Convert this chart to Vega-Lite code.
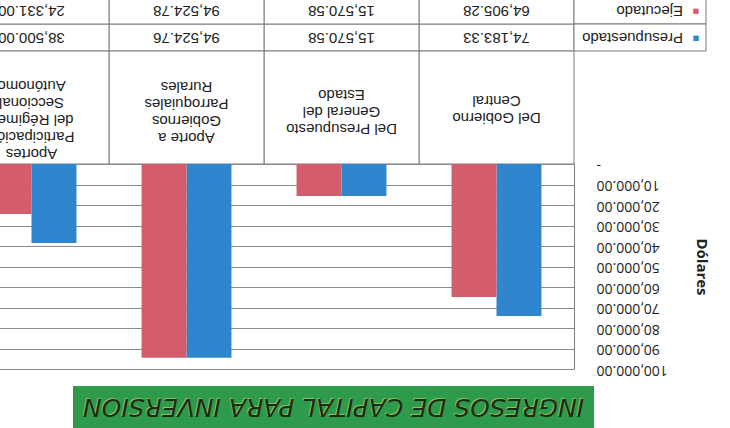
{
  "$schema": "https://vega.github.io/schema/vega-lite/v6.json",
  "padding": {"left": -47, "top": -4, "right": 0, "bottom": 0},
  "background": "white",
  "config": {
    "view": {"stroke": null},
    "font": "Liberation Sans"
  },
  "datasets": {
    "ingresos": [
      {"categoria": "Del Gobierno Central", "serie": "Presupuestado", "valor": 74183.33},
      {"categoria": "Del Gobierno Central", "serie": "Ejecutado", "valor": 64905.28},
      {"categoria": "Del Presupuesto General del Estado", "serie": "Presupuestado", "valor": 15570.58},
      {"categoria": "Del Presupuesto General del Estado", "serie": "Ejecutado", "valor": 15570.58},
      {"categoria": "Aporte a Gobiernos Parroquiales Rurales", "serie": "Presupuestado", "valor": 94524.76},
      {"categoria": "Aporte a Gobiernos Parroquiales Rurales", "serie": "Ejecutado", "valor": 94524.78},
      {"categoria": "Aportes Participación del Régimen Seccional Autónomo", "serie": "Presupuestado", "valor": 38500.00},
      {"categoria": "Aportes Participación del Régimen Seccional Autónomo", "serie": "Ejecutado", "valor": 24331.00}
    ],
    "categorias": [
      {"categoria": "Del Gobierno Central", "lineas": ["Del Gobierno", "Central"]},
      {"categoria": "Del Presupuesto General del Estado", "lineas": ["Del Presupuesto", "General del", "Estado"]},
      {"categoria": "Aporte a Gobiernos Parroquiales Rurales", "lineas": ["Aporte a", "Gobiernos", "Parroquiales", "Rurales"]},
      {"categoria": "Aportes Participación del Régimen Seccional Autónomo", "lineas": ["Aportes", "Participación", "del Régimen", "Seccional", "Autónomo"]}
    ],
    "series": [
      {"serie": "Ejecutado"},
      {"serie": "Presupuestado"}
    ],
    "titulo": [
      {"texto": "INGRESOS DE CAPITAL PARA INVERSION"}
    ]
  },
  "spacing": 0,
  "bounds": "flush",
  "vconcat": [
    {
      "width": 752,
      "height": 54,
      "encoding": {
        "y": {"field": "serie", "type": "nominal", "sort": ["Ejecutado", "Presupuestado"], "axis": null, "scale": {"paddingInner": 0, "paddingOuter": 0}}
      },
      "resolve": {"scale": {"x": "independent"}},
      "layer": [
        {
          "data": {"name": "ingresos"},
          "encoding": {
            "x": {"field": "categoria", "type": "nominal", "sort": ["Aportes Participación del Régimen Seccional Autónomo", "Aporte a Gobiernos Parroquiales Rurales", "Del Presupuesto General del Estado", "Del Gobierno Central"], "axis": null, "scale": {"paddingInner": 0, "paddingOuter": 0.425806, "align": 0}}
          },
          "layer": [
            {"mark": {"type": "rect", "fill": "white", "stroke": "#7a7a7a", "strokeWidth": 1}},
            {
              "mark": {"type": "text", "angle": 180, "fontSize": 15, "align": "center", "baseline": "middle", "color": "#222222"},
              "encoding": {"text": {"field": "valor", "type": "quantitative", "format": ",.2f"}}
            }
          ]
        },
        {
          "data": {"name": "series"},
          "encoding": {
            "x": {"datum": "leyenda", "type": "nominal", "axis": null, "scale": {"domain": ["otro", "leyenda"], "paddingInner": 0.787097, "paddingOuter": 0}}
          },
          "layer": [
            {"mark": {"type": "rect", "fill": "white", "stroke": "#7a7a7a", "strokeWidth": 1}},
            {
              "mark": {"type": "text", "angle": 180, "fontSize": 15, "align": "left", "baseline": "middle", "dx": -43, "color": "#222222"},
              "encoding": {"text": {"field": "serie", "type": "nominal"}}
            },
            {
              "mark": {"type": "text", "angle": 180, "fontSize": 11, "align": "center", "baseline": "middle", "dx": -56, "text": "■"},
              "encoding": {"color": {"field": "serie", "type": "nominal", "scale": {"domain": ["Presupuestado", "Ejecutado"], "range": ["#2f86cf", "#d35d6a"]}, "legend": null}}
            }
          ]
        }
      ]
    },
    {
      "width": 620,
      "height": 113,
      "data": {"name": "categorias"},
      "encoding": {
        "x": {"field": "categoria", "type": "nominal", "sort": ["Aportes Participación del Régimen Seccional Autónomo", "Aporte a Gobiernos Parroquiales Rurales", "Del Presupuesto General del Estado", "Del Gobierno Central"], "axis": null, "scale": {"paddingInner": 0, "paddingOuter": 0}}
      },
      "layer": [
        {"mark": {"type": "rect", "fill": "white", "stroke": "#7a7a7a", "strokeWidth": 1}},
        {
          "transform": [{"filter": "datum.categoria == 'Del Gobierno Central'"}],
          "mark": {"type": "text", "angle": 180, "fontSize": 15, "lineHeight": 17, "align": "center", "baseline": "middle", "dy": -10.5, "color": "#222222"},
          "encoding": {"text": {"field": "lineas", "type": "nominal"}}
        },
        {
          "transform": [{"filter": "datum.categoria == 'Del Presupuesto General del Estado'"}],
          "mark": {"type": "text", "angle": 180, "fontSize": 15, "lineHeight": 17, "align": "center", "baseline": "middle", "dy": -21.5, "color": "#222222"},
          "encoding": {"text": {"field": "lineas", "type": "nominal"}}
        },
        {
          "transform": [{"filter": "datum.categoria == 'Aporte a Gobiernos Parroquiales Rurales'"}],
          "mark": {"type": "text", "angle": 180, "fontSize": 15, "lineHeight": 17, "align": "center", "baseline": "middle", "dy": -30.5, "color": "#222222"},
          "encoding": {"text": {"field": "lineas", "type": "nominal"}}
        },
        {
          "transform": [{"filter": "datum.categoria == 'Aportes Participación del Régimen Seccional Autónomo'"}],
          "mark": {"type": "text", "angle": 180, "fontSize": 15, "lineHeight": 17, "align": "center", "baseline": "middle", "dy": -46.5, "color": "#222222"},
          "encoding": {"text": {"field": "lineas", "type": "nominal"}}
        }
      ]
    },
    {
      "width": 620,
      "height": 205,
      "data": {"name": "ingresos"},
      "mark": {"type": "bar"},
      "encoding": {
        "x": {"field": "categoria", "type": "nominal", "sort": ["Aportes Participación del Régimen Seccional Autónomo", "Aporte a Gobiernos Parroquiales Rurales", "Del Presupuesto General del Estado", "Del Gobierno Central"], "axis": null, "scale": {"paddingInner": 0.42, "paddingOuter": 0.21}},
        "xOffset": {"field": "serie", "type": "nominal", "sort": ["Ejecutado", "Presupuestado"]},
        "y": {
          "field": "valor", "type": "quantitative",
          "scale": {"domain": [0, 100000], "reverse": true, "nice": false, "zero": true},
          "axis": {
            "orient": "right",
            "values": [0, 10000, 20000, 30000, 40000, 50000, 60000, 70000, 80000, 90000, 100000],
            "title": "Dólares",
            "titleFont": "Open Sans",
            "titleFontWeight": "bold",
            "titleFontSize": 15,
            "titleColor": "#222222",
            "titlePadding": 26,
            "labelFont": "Open Sans",
            "labelFontSize": 14,
            "labelColor": "#222222",
            "labelAngle": 180,
            "labelAlign": "right",
            "labelBaseline": "middle",
            "labelPadding": 22,
            "labelFlush": false,
            "labelOverlap": false,
            "labelExpr": "datum.value == 0 ? '-\u00a0\u00a0\u00a0' : format(datum.value, ',.2f')",
            "ticks": false,
            "domain": true,
            "domainColor": "#7a7a7a",
            "grid": true,
            "gridColor": "#8a8a8a",
            "gridOpacity": 1
          }
        },
        "color": {"field": "serie", "type": "nominal", "scale": {"domain": ["Presupuestado", "Ejecutado"], "range": ["#2f86cf", "#d35d6a"]}, "legend": null}
      }
    },
    {
      "width": 640,
      "height": 72,
      "data": {"name": "titulo"},
      "encoding": {
        "x": {"datum": "banda", "type": "nominal", "axis": null, "scale": {"paddingInner": 0, "paddingOuter": 0.114203, "align": 1}},
        "y": {"datum": "banda", "type": "nominal", "axis": null, "scale": {"paddingInner": 0, "paddingOuter": 0.154545, "align": 1}}
      },
      "layer": [
        {"mark": {"type": "rect", "fill": "#2e9a4c"}},
        {
          "mark": {"type": "text", "angle": 180, "fontSize": 25, "font": "DejaVu Sans", "fontStyle": "italic", "color": "#d8e070", "baseline": "middle", "align": "center", "dy": 7, "dx": 1, "opacity": 0.55},
          "encoding": {"text": {"field": "texto", "type": "nominal"}}
        },
        {
          "mark": {"type": "text", "angle": 180, "fontSize": 25, "font": "DejaVu Sans", "fontStyle": "italic", "color": "#1d2b14", "baseline": "middle", "align": "center", "dy": 6},
          "encoding": {"text": {"field": "texto", "type": "nominal"}}
        }
      ]
    }
  ]
}
